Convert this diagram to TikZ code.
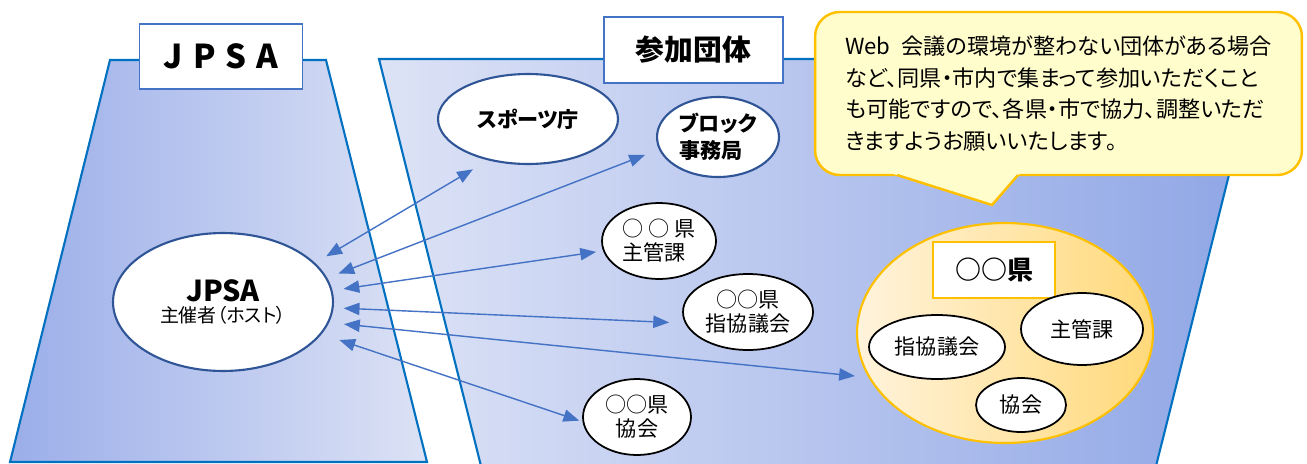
\documentclass[tikz,border=0pt]{standalone}
\usepackage{fontspec}
\setmainfont{Noto Sans CJK JP}[RawFeature=+palt]
\usetikzlibrary{shapes.geometric,arrows.meta}
\definecolor{frameblue}{HTML}{0070C0}
\definecolor{linkblue}{HTML}{4472C4}
\definecolor{ringblue}{HTML}{2F5597}
\definecolor{jpsaL}{HTML}{9BAEE9}
\definecolor{jpsaR}{HTML}{DCE2F5}
\definecolor{partL}{HTML}{DDE3F6}
\definecolor{partR}{HTML}{8FA6E6}
\definecolor{goldline}{HTML}{FFC000}
\definecolor{prefL}{HTML}{FFF3DC}
\definecolor{prefR}{HTML}{FFD97A}
\definecolor{notefill}{HTML}{FFFDCC}
\tikzset{
  orgnode/.style={ellipse, draw=ringblue, fill=white, line width=1.2pt, inner sep=0pt,
    font=\fontsize{12pt}{15.3pt}\selectfont\bfseries, align=center},
  unitnode/.style={ellipse, draw=black, fill=white, line width=1pt, inner sep=0pt,
    font=\fontsize{12pt}{13.6pt}\selectfont, align=center},
  tagbox/.style={rectangle, draw=linkblue, fill=white, line width=0.8pt, inner sep=0pt},
  link/.style={linkblue, line width=0.8pt, >={Triangle[length=9pt,width=7pt]}, <->},
}
\begin{document}
\begin{tikzpicture}[x=0.02cm, y=-0.02cm]
  \useasboundingbox (0,0) rectangle (1307,463);
  \shadedraw[left color=jpsaL, right color=jpsaR, draw=frameblue, line width=1.2pt]
    (110,60) -- (326,60) -- (427,462) -- (10,462) -- cycle;
  \shadedraw[left color=partL, right color=partR, draw=frameblue, line width=1.2pt]
    (379,59) -- (1258,59) -- (1155,470) -- (482,470) -- cycle;
  \node[tagbox, minimum width=3.26cm, minimum height=1.3cm,
    font=\fontsize{18.7pt}{20pt}\selectfont\bfseries] (jpsatag) at (221,56.5)
    {J\hspace{0.3em}P\hspace{0.3em}S\hspace{0.3em}A};
  \node[tagbox, minimum width=3.58cm, minimum height=1.32cm,
    font=\fontsize{16.4pt}{18pt}\selectfont\bfseries] (parttag) at (693.5,50) {参加団体};

  \node[orgnode, minimum width=4.4cm, minimum height=2.76cm, font=] (host) at (223,302)
    {{\fontsize{16.4pt}{19.4pt}\selectfont\bfseries JPSA}\\{\fontsize{10.8pt}{13pt}\selectfont 主催者（ホスト）}};
  \node[orgnode, minimum width=3.6cm, minimum height=1.8cm] (sports) at (528,119) {スポーツ庁};
  \node[orgnode, minimum width=2.44cm, minimum height=1.6cm, align=left] (block) at (718,137) {ブロック\\事務局};
  \node[unitnode, minimum width=2.28cm, minimum height=1.52cm, align=left] (prefsec) at (659,241) {○ ○ 県\\主管課};
  \node[unitnode, minimum width=2.6cm, minimum height=1.52cm] (prefcouncil) at (748,312) {○○県\\指協議会};
  \node[unitnode, minimum width=2.16cm, minimum height=1.52cm] (prefassoc) at (637,417) {○○県\\協会};

  \node[ellipse, draw=goldline, line width=1.2pt, left color=prefL, right color=prefR,
    minimum width=5.92cm, minimum height=4.4cm] (pref) at (1005,333) {};
  \node[tagbox, draw=goldline, minimum width=2.44cm, minimum height=1.12cm,
    font=\fontsize{14.8pt}{16pt}\selectfont\bfseries] (preftag) at (994,270) {○○県};
  \node[unitnode, minimum width=2.44cm, minimum height=1.44cm] (insec) at (1082,329) {主管課};
  \node[unitnode, minimum width=2.72cm, minimum height=1.28cm] (incouncil) at (937,347) {指協議会};
  \node[unitnode, minimum width=1.8cm, minimum height=1.08cm] (inassoc) at (1021,405) {協会};

  \begin{scope}[link]
    \draw[shorten <=7.4pt, shorten >=10pt] (host.23) -- (sports.226);
    \draw[shorten <=6.8pt, shorten >=8.5pt] (host.13) -- (block.192);
    \draw[shorten <=6.3pt, shorten >=4pt] (host.6) -- (prefsec.190);
    \draw[shorten <=5.7pt, shorten >=9pt] (host.357) -- (prefcouncil.190);
    \draw[shorten <=8.5pt, shorten >=7.7pt] (host.349) -- (pref.198);
    \draw[shorten <=10.6pt, shorten >=2pt] (host.342) -- (prefassoc.185);
  \end{scope}

  \node[draw=goldline, fill=notefill, line width=1.4pt, rounded corners=14pt,
    minimum width=9.74cm, minimum height=3.26cm, inner sep=0pt, align=left,
    font=\fontsize{12.6pt}{18.1pt}\selectfont] (note) at (1058.5,93.5)
    {Web\hspace{0.5em}会議の環境が整わない団体がある場合\\
     など、同県・市内で集まって参加いただくこと\\
     も可能ですので、各県・市で協力、調整いただ\\
     きますようお願いいたします。};
  \coordinate (tip) at (992,205);
  \fill[notefill] (887,172) -- (1021,172) -- (tip) -- cycle;
  \draw[goldline, line width=1.4pt] (897,175) -- (tip) -- (1018,175);
\end{tikzpicture}
\end{document}
